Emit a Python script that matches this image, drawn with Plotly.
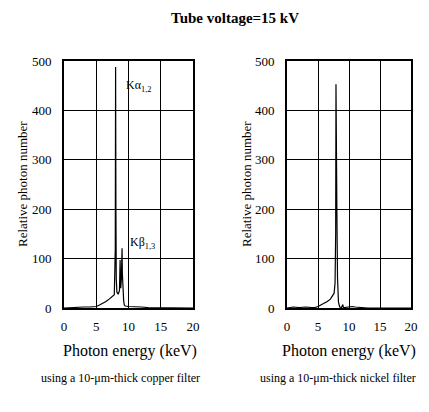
import plotly.graph_objects as go

# --- data ---
cu_energy = [0, 1, 2, 3, 4, 4.5, 5, 5.5, 6, 6.5, 7, 7.5, 7.8, 7.95, 8.0, 8.05, 8.1,
             8.2, 8.4, 8.6, 8.7, 8.8, 8.9, 9.0, 9.05, 9.1, 9.15, 9.25, 9.35, 9.5,
             10, 11, 12, 13, 14, 15, 16, 17, 18, 19, 20]
cu_counts = [0, 1, 1, 2, 2, 2, 3, 6, 9, 13, 18, 23, 27, 120, 488, 200, 60,
             32, 28, 35, 97, 40, 60, 121, 70, 40, 38, 15, 6, 4,
             3, 3, 2, 1, 1, 1, 0, 0, 0, 0, 0]

ni_energy = [0, 1, 2, 3, 4, 4.5, 5, 5.5, 6, 6.5, 7, 7.3, 7.6, 7.75, 7.85, 7.9,
             7.95, 8.05, 8.15, 8.3, 8.5, 8.8, 9.0, 9.1, 9.3, 10, 10.5, 11, 11.5,
             12, 13, 14, 15, 16, 17, 18, 19, 20]
ni_counts = [0, 2, 1, 2, 1, 1, 3, 6, 9, 13, 18, 24, 30, 50, 150, 453,
             300, 190, 60, 12, 2, 1, 7, 1, 1, 3, 3, 2, 2,
             1, 0, 0, 0, 0, 0, 0, 0, 0]

x_ticks = [0, 5, 10, 15, 20]
y_ticks = [0, 100, 200, 300, 400, 500]

title_text = "Tube voltage=15 kV"
x_title = "Photon energy (keV)"
y_title = "Relative photon number"
captions = ["using a 10-μm-thick copper filter", "using a 10-μm-thick nickel filter"]

FONT = "Liberation Serif"
W, H, OFF = 421, 404, 8  # page body margin offsets the figure by 8 px


def px(x):
    return (x - OFF) / W


def py(y):
    return 1 - (y - OFF) / H


fig = go.Figure()
fig.add_trace(go.Scatter(x=cu_energy, y=cu_counts, mode="lines",
                         line=dict(color="black", width=1.2),
                         xaxis="x", yaxis="y", showlegend=False))
fig.add_trace(go.Scatter(x=ni_energy, y=ni_counts, mode="lines",
                         line=dict(color="black", width=1.2),
                         xaxis="x2", yaxis="y2", showlegend=False))

ydom = [py(308), py(61)]
axis_common = dict(showgrid=True, gridcolor="black", gridwidth=1.2,
                   showline=True, linecolor="black", linewidth=1.6, mirror=True,
                   ticks="", zeroline=False, automargin=False,
                   tickfont=dict(family=FONT, size=13, color="black"))

fig.update_layout(
    width=W, height=H,
    margin=dict(l=0, r=0, t=0, b=0, autoexpand=False),
    paper_bgcolor="white", plot_bgcolor="white",
    font=dict(family=FONT, color="black"),
    xaxis=dict(domain=[px(64), px(193)], range=[0, 20], tickvals=x_ticks,
               anchor="y", ticklabelstandoff=6, **axis_common),
    yaxis=dict(domain=ydom, range=[0, 500], tickvals=y_ticks, anchor="x",
               ticklabelstandoff=8, **axis_common),
    xaxis2=dict(domain=[px(287), px(411)], range=[0, 20], tickvals=x_ticks,
                anchor="y2", ticklabelstandoff=6, **axis_common),
    yaxis2=dict(domain=ydom, range=[0, 500], tickvals=y_ticks, anchor="x2",
                ticklabelstandoff=8, **axis_common),
)


def note(text, x, y, size, **kw):
    fig.add_annotation(text=text, xref="paper", yref="paper", x=px(x), y=py(y),
                       xanchor="center", yanchor="middle", showarrow=False,
                       font=dict(family=FONT, size=size, color="black"), **kw)


note("<b>" + title_text + "</b>", 235, 18, 15)
note(captions[0], 120, 378, 12)
note(captions[1], 338, 378, 12)
note(x_title, 130, 351, 16)
note(x_title, 349, 351, 16)
note(y_title, 23, 184, 13, textangle=-90)
note(y_title, 247, 184, 13, textangle=-90)

fig.add_annotation(text="Kα<sub>1,2</sub>", xref="x", yref="y", x=9.3, y=449,
                   xanchor="left", yanchor="middle", showarrow=False,
                   font=dict(family=FONT, size=12, color="black"))
fig.add_annotation(text="Kβ<sub>1,3</sub>", xref="x", yref="y", x=9.9, y=131,
                   xanchor="left", yanchor="middle", showarrow=False,
                   font=dict(family=FONT, size=12, color="black"))

fig.write_html("out.html")
